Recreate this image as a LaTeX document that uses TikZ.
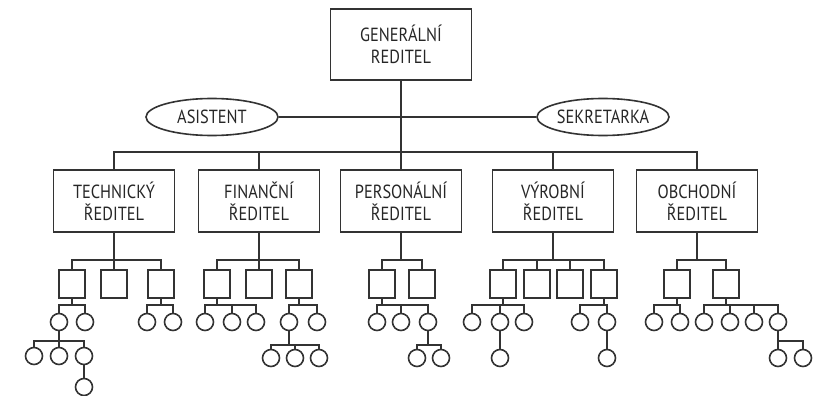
\documentclass[tikz,border=0pt]{standalone}
\usepackage{fontspec}
\setmainfont{PT Sans}[FakeStretch=0.86]
\usepackage{tikz}
\usetikzlibrary{shapes.geometric,calc}

\tikzset{
  link/.style={draw=black!80, line width=1.6pt},
  bigbox/.style={rectangle, draw=black!80, line width=1.6pt, minimum width=141, minimum height=71, align=center, font=\fontsize{19}{22}\selectfont, text=black!85},
  deptbox/.style={rectangle, draw=black!80, line width=1.6pt, minimum width=121, minimum height=62, align=center, font=\fontsize{19}{22}\selectfont, text=black!85},
  oval/.style={ellipse, draw=black!80, line width=1.6pt, minimum width=132, minimum height=37, inner sep=0pt, font=\fontsize{19}{22}\selectfont, text=black!85},
  sq/.style={rectangle, draw=black!80, line width=1.6pt, minimum width=26, minimum height=28, inner sep=0pt},
  ball/.style={circle, draw=black!80, line width=1.6pt, minimum size=17, inner sep=0pt},
  elbow/.style={to path={(\tikztostart) |- ($(\tikztotarget.north)+(0,-#1)$) -- (\tikztotarget.north)}},
}

\begin{document}
\begin{tikzpicture}[x=1pt, y=-1pt]
    \useasboundingbox (0,0) rectangle (820,396);

    % top
    \node (gen) at (401,44.5) [bigbox] {GENERÁLNÍ\\REDITEL};
    \node (asist) at (212,117) [oval] {ASISTENT};
    \node (sekr) at (603,117) [oval] {SEKRETARKA};
    \draw[link] (asist) -- (sekr);

    % departments
    \node (tech) at (114,201) [deptbox] {TECHNICKÝ\\ŘEDITEL};
    \node (fin) at (259,201) [deptbox] {FINANČNÍ\\ŘEDITEL};
    \node (pers) at (401,201) [deptbox] {PERSONÁLNÍ\\ŘEDITEL};
    \node (vyr) at (553,201) [deptbox] {VÝROBNÍ\\ŘEDITEL};
    \node (obch) at (697,201) [deptbox] {OBCHODNÍ\\ŘEDITEL};
    \draw[link] (gen) edge[elbow=17] (tech) edge[elbow=17] (fin)
        edge[elbow=17] (pers) edge[elbow=17] (vyr) edge[elbow=17] (obch);

    % squares
    \node (t1) at (72,284) [sq] {};
    \node (t2) at (114,284) [sq] {};
    \node (t3) at (161,284) [sq] {};
    \node (f1) at (217,284) [sq] {};
    \node (f2) at (259,284) [sq] {};
    \node (f3) at (299,284) [sq] {};
    \node (p1) at (382,284) [sq] {};
    \node (p2) at (422,284) [sq] {};
    \node (v1) at (503,284) [sq] {};
    \node (v2) at (537,284) [sq] {};
    \node (v3) at (570,284) [sq] {};
    \node (v4) at (604,284) [sq] {};
    \node (o1) at (677,284) [sq] {};
    \node (o2) at (726,284) [sq] {};
    \draw[link] (tech) edge[elbow=9] (t1) edge[elbow=9] (t2) edge[elbow=9] (t3);
    \draw[link] (fin) edge[elbow=9] (f1) edge[elbow=9] (f2) edge[elbow=9] (f3);
    \draw[link] (pers) edge[elbow=9] (p1) edge[elbow=9] (p2);
    \draw[link] (vyr) edge[elbow=9] (v1) edge[elbow=9] (v2) edge[elbow=9] (v3) edge[elbow=9] (v4);
    \draw[link] (obch) edge[elbow=9] (o1) edge[elbow=9] (o2);

    % first row of circles
    \node (t1a) at (59,322) [ball] {};
    \node (t1b) at (85,322) [ball] {};
    \node (t3a) at (147,322) [ball] {};
    \node (t3b) at (173,322) [ball] {};
    \node (f1a) at (205,322) [ball] {};
    \node (f1b) at (232,322) [ball] {};
    \node (f1c) at (256,322) [ball] {};
    \node (f3a) at (289,322) [ball] {};
    \node (f3b) at (317,322) [ball] {};
    \node (p1a) at (377,322) [ball] {};
    \node (p1b) at (401,322) [ball] {};
    \node (p1c) at (428,322) [ball] {};
    \node (v1a) at (472,322) [ball] {};
    \node (v1b) at (500,322) [ball] {};
    \node (v1c) at (524,322) [ball] {};
    \node (v4a) at (580,322) [ball] {};
    \node (v4b) at (607,322) [ball] {};
    \node (o1a) at (654,322) [ball] {};
    \node (o1b) at (680,322) [ball] {};
    \node (o2a) at (704,322) [ball] {};
    \node (o2b) at (730,322) [ball] {};
    \node (o2c) at (754,322) [ball] {};
    \node (o2d) at (778,322) [ball] {};
    \draw[link] (t1) edge[elbow=7.5] (t1a) edge[elbow=7.5] (t1b);
    \draw[link] (t3) edge[elbow=7.5] (t3a) edge[elbow=7.5] (t3b);
    \draw[link] (f1) edge[elbow=7.5] (f1a) edge[elbow=7.5] (f1b) edge[elbow=7.5] (f1c);
    \draw[link] (f3) edge[elbow=7.5] (f3a) edge[elbow=7.5] (f3b);
    \draw[link] (p1) edge[elbow=7.5] (p1a) edge[elbow=7.5] (p1b) edge[elbow=7.5] (p1c);
    \draw[link] (v1) edge[elbow=7.5] (v1a) edge[elbow=7.5] (v1b) edge[elbow=7.5] (v1c);
    \draw[link] (v4) edge[elbow=7.5] (v4a) edge[elbow=7.5] (v4b);
    \draw[link] (o1) edge[elbow=7.5] (o1a) edge[elbow=7.5] (o1b);
    \draw[link] (o2) edge[elbow=7.5] (o2a) edge[elbow=7.5] (o2b) edge[elbow=7.5] (o2c) edge[elbow=7.5] (o2d);

    % second row of circles
    \node (t1a1) at (34,356) [ball] {};
    \node (t1a2) at (59,356) [ball] {};
    \node (t1a3) at (84,356) [ball] {};
    \node (t1a3a) at (84,387) [ball] {};
    \node (f3a1) at (271,358) [ball] {};
    \node (f3a2) at (295,358) [ball] {};
    \node (f3a3) at (319,358) [ball] {};
    \node (p1c1) at (417,358) [ball] {};
    \node (p1c2) at (441,358) [ball] {};
    \node (v1b1) at (500,358) [ball] {};
    \node (v4b1) at (607,358) [ball] {};
    \node (o2d1) at (778,358) [ball] {};
    \node (o2d2) at (803,358) [ball] {};
    \draw[link] (t1a) edge[elbow=6] (t1a1) edge[elbow=6] (t1a2) edge[elbow=6] (t1a3);
    \draw[link] (t1a3) -- (t1a3a);
    \draw[link] (f3a) edge[elbow=4] (f3a1) edge[elbow=4] (f3a2) edge[elbow=4] (f3a3);
    \draw[link] (p1c) edge[elbow=4] (p1c1) edge[elbow=4] (p1c2);
    \draw[link] (v1b) -- (v1b1);
    \draw[link] (v4b) -- (v4b1);
    \draw[link] (o2d) edge[elbow=8] (o2d1) edge[elbow=8] (o2d2);
\end{tikzpicture}
\end{document}
